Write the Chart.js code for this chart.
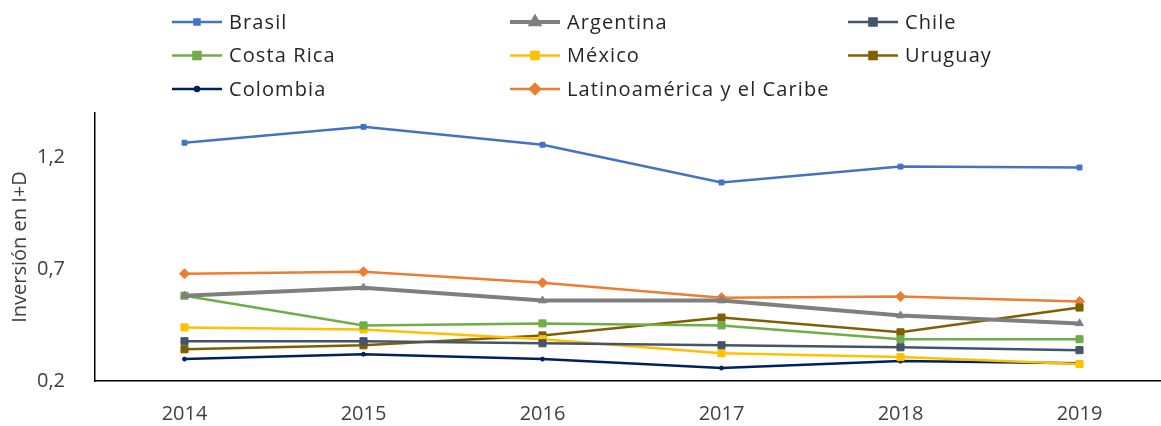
<!DOCTYPE html>
<html>
<head>
<meta charset="utf-8">
<script src="https://cdn.jsdelivr.net/npm/chart.js@4.4.1/dist/chart.umd.min.js"></script>
<style>
  body { margin: 0; background: #fff; overflow: hidden; }
  #wrap { width: 1161px; height: 426px; overflow: hidden; }
</style>
</head>
<body>
<div id="wrap"><canvas id="myChart" width="1175" height="426"></canvas></div>
<script>
const years = ["2014", "2015", "2016", "2017", "2018", "2019"];
const yTicks = [0.2, 0.7, 1.2];

const brasil = [1.267, 1.338, 1.258, 1.089, 1.16, 1.156];
const argentina = [0.582, 0.618, 0.56, 0.56, 0.493, 0.458];
const chile = [0.378, 0.378, 0.369, 0.36, 0.351, 0.338];
const costaRica = [0.582, 0.449, 0.458, 0.449, 0.387, 0.387];
const mexico = [0.44, 0.431, 0.387, 0.324, 0.307, 0.276];
const uruguay = [0.342, 0.36, 0.404, 0.484, 0.418, 0.529];
const colombia = [0.298, 0.32, 0.298, 0.258, 0.289, 0.28];
const latam = [0.68, 0.689, 0.64, 0.573, 0.578, 0.556];

const ctx = document.getElementById("myChart");

function serie(label, data, color, style, radius, width) {
  return {
    label: label,
    data: data,
    borderColor: color,
    backgroundColor: color,
    pointStyle: style,
    pointRadius: radius,
    pointHoverRadius: radius,
    borderWidth: width,
    pointBorderWidth: 1,
    tension: 0,
  };
}

// legend drawn as a 3-column grid, like the original
const gridLegend = {
  id: "gridLegend",
  afterDraw(chart) {
    const c = chart.ctx;
    c.save();
    chart.data.datasets.forEach((ds, i) => {
      const col = i % 3;
      const row = Math.floor(i / 3);
      const x = 172 + col * 338;
      const y = 22 + row * 33.5;
      c.strokeStyle = ds.borderColor;
      c.lineWidth = ds.borderWidth;
      c.beginPath();
      c.moveTo(x, y);
      c.lineTo(x + 50, y);
      c.stroke();
      c.fillStyle = ds.backgroundColor;
      Chart.helpers.drawPoint(c, {
        pointStyle: ds.pointStyle,
        radius: ds.pointRadius,
        borderWidth: 1,
        rotation: 0,
      }, x + 25, y);
      c.fillStyle = "#262626";
      c.font = "20px 'Open Sans'";
      c.letterSpacing = "1.1px";
      c.textBaseline = "middle";
      c.textAlign = "left";
      c.fillText(ds.label, x + 57, y + 1);
    });
    c.restore();
  },
};

const myChart = new Chart(ctx, {
  type: "line",
  data: {
    labels: years,
    datasets: [
      serie("Brasil", brasil, "#4472C4", "rect", 3.5, 2.5),
      serie("Argentina", argentina, "#7F7F7F", "triangle", 4.5, 4),
      serie("Chile", chile, "#44546A", "rect", 5, 2.5),
      serie("Costa Rica", costaRica, "#70AD47", "rect", 5, 2.5),
      serie("México", mexico, "#FFC000", "rect", 5, 2.5),
      serie("Uruguay", uruguay, "#7F6000", "rect", 5, 2.5),
      serie("Colombia", colombia, "#002060", "circle", 2, 2.5),
      serie("Latinoamérica y el Caribe", latam, "#ED7D31", "rectRot", 5, 2.5),
    ],
  },
  options: {
    responsive: false,
    animation: false,
    devicePixelRatio: 1,
    layout: { padding: { top: 113, right: 2, left: 0, bottom: 0 } },
    plugins: {
      legend: { display: false },
      tooltip: { enabled: false },
    },
    scales: {
      x: {
        offset: true,
        grid: { display: false },
        border: { display: true, color: "#000", width: 1.5 },
        ticks: { color: "#404040", font: { family: "Open Sans", size: 20 }, padding: 13 },
        afterFit(scale) { scale.height = 45; },
      },
      y: {
        min: 0.2,
        max: 1.4,
        grid: { display: false },
        border: { display: true, color: "#000", width: 1.5 },
        afterBuildTicks(scale) {
          scale.ticks = yTicks.map((v) => ({ value: v }));
        },
        ticks: {
          color: "#404040",
          font: { family: "Open Sans", size: 20 },
          padding: 22,
          callback: (v) => v.toFixed(1).replace(".", ","),
        },
        title: {
          display: true,
          text: "Inversión en I+D",
          color: "#404040",
          font: { family: "Open Sans", size: 20 },
          padding: { top: 8, bottom: 0 },
        },
        afterFit(scale) { scale.width = 95; },
      },
    },
  },
  plugins: [gridLegend],
});
</script>
</body>
</html>
